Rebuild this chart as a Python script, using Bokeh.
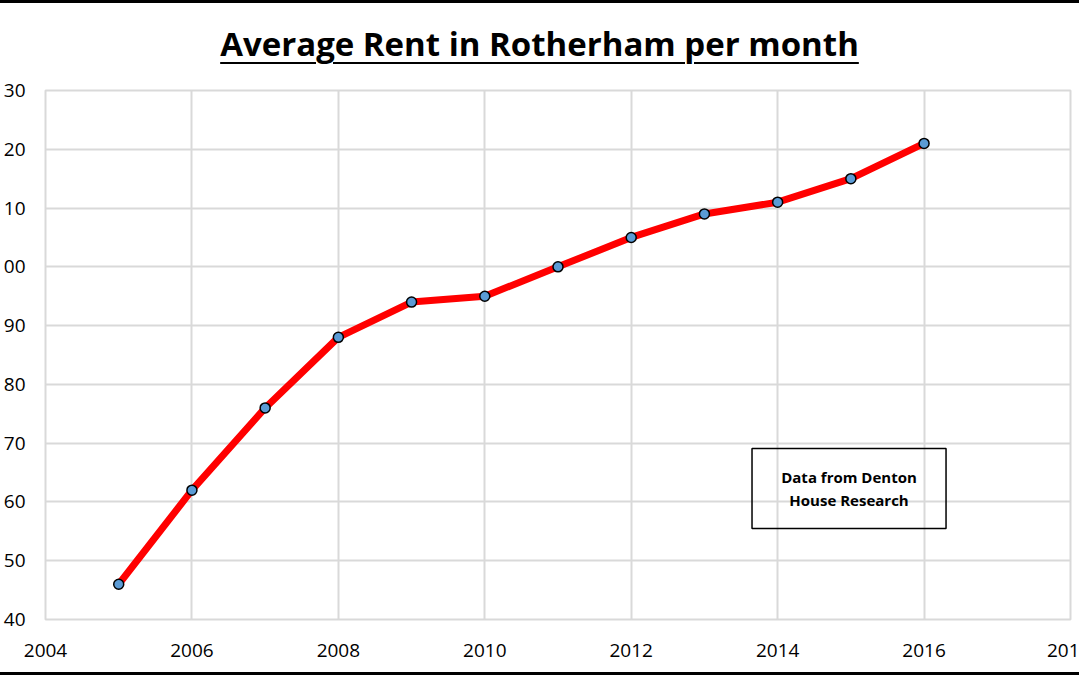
from bokeh.plotting import figure
from bokeh.models import Range1d, BoxAnnotation, Label, Div, FixedTicker
from bokeh.layouts import column
from bokeh.embed import file_html
from bokeh.resources import INLINE

years = [2005, 2006, 2007, 2008, 2009, 2010, 2011, 2012, 2013, 2014, 2015, 2016]
rent = [46, 62, 76, 88, 94, 95, 100, 105, 109, 111, 115, 121]

x_ticks = [2004, 2006, 2008, 2010, 2012, 2014, 2016, 2018]
x_labels = ["2004", "2006", "2008", "2010", "2012", "2014", "2016", "201"]
y_ticks = [40, 50, 60, 70, 80, 90, 100, 110, 120, 130]
y_labels = ["40", "50", "60", "70", "80", "90", "00", "10", "20", "30"]

title_text = "Average Rent in Rotherham per month"
note_text = "Data from Denton\nHouse Research"

FONT = "Open Sans"
GRID = "#D9D9D9"
W = 1079

band_top = Div(text="", width=W, height=3, margin=0,
               styles={"background-color": "black"})

title = Div(
    text=(
        "<div style=\"text-align:center;width:%dpx;font-family:'Open Sans';"
        "font-weight:bold;font-size:33px;line-height:1.2;padding-top:21px;color:black\">"
        "<span style='text-decoration:underline;text-decoration-thickness:2px;"
        "text-underline-offset:6px'>%s</span></div>" % (W, title_text)
    ),
    width=W,
    height=65,
    margin=0,
)

p = figure(
    width=W,
    height=604,
    x_range=Range1d(2004, 2018),
    y_range=Range1d(40, 130),
    output_backend="svg",
    toolbar_location=None,
    min_border_left=44,
    min_border_right=9,
    min_border_top=22,
    min_border_bottom=53,
    margin=0,
)

p.outline_line_color = GRID
p.outline_line_width = 2
p.background_fill_color = "white"
p.border_fill_color = "white"

for g in (p.xgrid, p.ygrid):
    g.grid_line_color = GRID
    g.grid_line_width = 2

p.xaxis.ticker = FixedTicker(ticks=x_ticks)
p.yaxis.ticker = FixedTicker(ticks=y_ticks)
p.xaxis.major_label_overrides = dict(zip(x_ticks, x_labels))
p.yaxis.major_label_overrides = dict(zip(y_ticks, y_labels))

for ax in (p.xaxis, p.yaxis):
    ax.axis_line_color = None
    ax.major_tick_line_color = None
    ax.minor_tick_line_color = None
    ax.major_tick_out = 0
    ax.major_tick_in = 0
    ax.minor_tick_out = 0
    ax.major_label_text_font = FONT
    ax.major_label_text_font_size = "19px"
    ax.major_label_text_color = "black"

p.xaxis.major_label_standoff = 24
p.yaxis.major_label_standoff = 20

p.line(years, rent, line_color="red", line_width=7)
p.scatter(years, rent, size=10, fill_color="#5B9BD5", line_color="black", line_width=1.5)

box = BoxAnnotation(left=2013.65, right=2016.3, bottom=55.5, top=69.1,
                    fill_alpha=0, fill_color=None, line_color="black",
                    line_alpha=1.0, line_width=1.5)
p.add_layout(box)

note = Label(x=2014.975, y=62.3, text=note_text, text_align="center",
             text_baseline="middle", text_font=FONT, text_font_style="bold",
             text_font_size="15px", text_color="black", text_line_height=1.15)
p.add_layout(note)

band_bottom = Div(text="", width=W, height=3, margin=0,
                  styles={"background-color": "black"})

layout = column(band_top, title, p, band_bottom, spacing=0)

open("out.html", "w").write(file_html(layout, INLINE))
